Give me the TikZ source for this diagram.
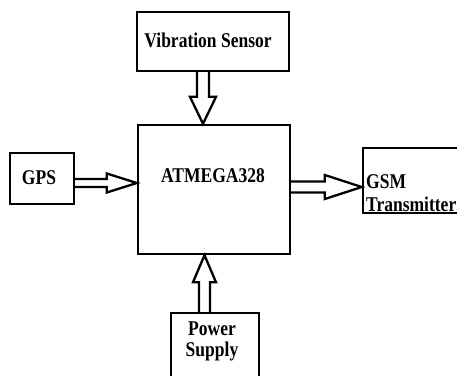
\documentclass[tikz,border=0pt]{standalone}
\usepackage{fontspec}
\setmainfont{Liberation Serif}
\usetikzlibrary{calc}
\tikzset{
  blk/.style={draw, line width=2.4pt, rectangle, inner sep=0pt},
  lbl/.style={anchor=base, inner sep=0pt, font=\bfseries\fontsize{17.5}{21}\selectfont},
  barrow/.style={draw, line width=2.3pt, line join=miter},
}
\newcommand{\tall}[1]{\scalebox{1}[1.2]{#1}}
\begin{document}
\begin{tikzpicture}[x=1pt,y=-1pt]
\useasboundingbox (0,0) rectangle (457,375);
% boxes
\node[blk, minimum width=152pt, minimum height=59pt] (vib) at (213,41.5) {};
\node[blk, minimum width=152pt, minimum height=129pt] (atm) at (214,189.5) {};
\node[blk, minimum width=64pt, minimum height=51pt] (gps) at (42,178.5) {};
\node[blk, minimum width=107pt, minimum height=65pt] (gsm) at (416.5,180.5) {};
\node[blk, minimum width=88pt, minimum height=67pt] (pow) at (215,346.5) {};
% texts
\node[lbl] (tvib) at (208,47) {\tall{Vibration Sensor}};
\node[lbl] (tatm) at (213,182) {\tall{ATMEGA328}};
\node[lbl] (tgps) at (39,184) {\tall{GPS}};
\node[lbl, anchor=base west] (tgsm) at (366,188) {\tall{GSM}};
\node[lbl, anchor=base west] (ttx) at (366,211) {\tall{Transmitter}};
\node[lbl] (tpow) at (212,335) {\tall{Power}};
\node[lbl] (tsup) at (212,356) {\tall{Supply}};
% arrow anchors
\coordinate (vs) at ($(vib.south)+(-10,0)$);
\coordinate (vt) at (vs |- atm.north);
\coordinate (ps) at ($(pow.north)+(-10.5,0)$);
\coordinate (pt) at (ps |- atm.south);
\coordinate (gs) at ($(gps.east)+(0,4.5)$);
\coordinate (gt) at (gs -| atm.west);
\coordinate (ms) at ($(atm.east)+(0,-2.5)$);
\coordinate (mt) at (ms -| gsm.west);
% vibration -> atmega (down)
\draw[barrow] ($(vs)+(-6,0)$) -- ($(vt)+(-6,-27)$) -- ($(vt)+(-13,-27)$) -- (vt)
  -- ($(vt)+(13,-27)$) -- ($(vt)+(6,-27)$) -- ($(vs)+(6,0)$);
% power -> atmega (up)
\draw[barrow] ($(ps)+(-5.5,0)$) -- ($(pt)+(-5.5,27)$) -- ($(pt)+(-11.5,27)$) -- (pt)
  -- ($(pt)+(11.5,27)$) -- ($(pt)+(5.5,27)$) -- ($(ps)+(5.5,0)$);
% gps -> atmega (right)
\draw[barrow] ($(gs)+(0,-4)$) -- ($(gt)+(-30,-4)$) -- ($(gt)+(-30,-9.5)$) -- (gt)
  -- ($(gt)+(-30,9.5)$) -- ($(gt)+(-30,4)$) -- ($(gs)+(0,4)$);
% atmega -> gsm (right)
\draw[barrow] ($(ms)+(0,-5.5)$) -- ($(mt)+(-37,-5.5)$) -- ($(mt)+(-37,-12)$) -- (mt)
  -- ($(mt)+(-37,12)$) -- ($(mt)+(-37,5.5)$) -- ($(ms)+(0,5.5)$);
\end{tikzpicture}
\end{document}
